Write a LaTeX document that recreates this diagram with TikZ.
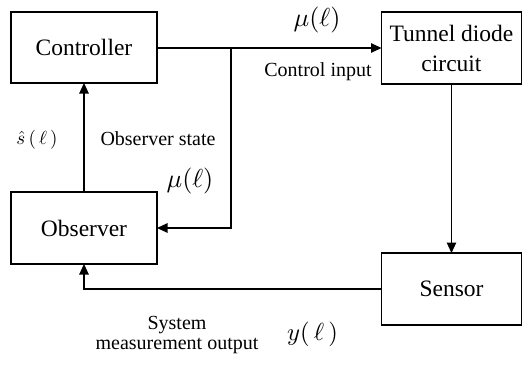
\documentclass[tikz,border=0pt]{standalone}
\usepackage{fontspec}
\setmainfont{Liberation Serif}
\usetikzlibrary{arrows.meta}
\tikzset{
  blk/.style={draw, line width=1.1pt, inner sep=0pt, outer sep=0pt, align=center,
    font=\fontsize{23.5}{30}\selectfont},
  lbl/.style={inner sep=0pt, align=center, font=\fontsize{20}{20}\selectfont},
  mlbl/.style={inner sep=0pt, scale=2.6},
  conn/.style={line width=1.1pt, -{Triangle[length=10.5pt,width=9.5pt]}},
  plain/.style={line width=1.1pt}
}
\begin{document}
\begin{tikzpicture}[x=1pt,y=-1pt]
\useasboundingbox (0,0) rectangle (523,365);
\node[blk, minimum width=146pt, minimum height=71pt] (ctrl) at (84,47.5) {Controller};
\node[blk, minimum width=140pt, minimum height=72pt] (tun) at (451.5,48) {Tunnel diode\\circuit};
\node[blk, minimum width=146pt, minimum height=72pt] (obs) at (84,228) {Observer};
\node[blk, minimum width=140pt, minimum height=72pt] (sen) at (451.5,289) {Sensor};
\coordinate (br) at (231,48);
\coordinate (brd) at (231,228);
\coordinate (sl) at (84,289);
\draw[conn] (ctrl.east |- br) -- (tun.west |- br);
\draw[conn] (br) -- (brd) -- (obs.east);
\draw[conn] (obs.north) -- (ctrl.south);
\draw[conn] (tun.south) -- (sen.north);
\draw[conn] (sen.west) -- (sl) -- (obs.south);
\node[mlbl] (mu1) at (317,20) {$\mu(\ell)$};
\node[lbl] (ci) at (318,72) {Control input};
\node[mlbl, scale=0.73] (sh) at (37,140) {$\hat{s}\,(\,\ell\,)$};
\node[lbl] (os) at (158,139) {Observer state};
\node[mlbl] (mu2) at (190,181) {$\mu(\ell)$};
\node[lbl] (smo) at (177,335) {System\\measurement output};
\node[mlbl, scale=0.95] (yl) at (312.5,334) {$y(\,\ell\,)$};
\end{tikzpicture}
\end{document}
